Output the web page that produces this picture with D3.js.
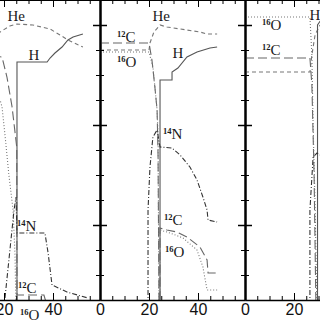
<!doctype html>
<meta charset="utf-8">
<style>
body { margin: 0; background: #fff; }
svg { display: block; }
.lbl { font-family: "Liberation Serif", "DejaVu Serif", serif; fill: #1a1a1a; }
</style>
<body>
<script src="https://d3js.org/d3.v7.min.js"></script>
<script>
// abundance profiles, [mass coordinate, log abundance]
var leftHe  = [[10,-0.3],[15,-0.18],[18.4,-0.07],[22.4,-0.01],[25.3,0.01],[31.8,0],[38.8,-0.04],[42.9,-0.1],[46.1,-0.15],[52.2,-0.22]];
var leftH   = [[25.3,-2.9],[25.3,-0.37],[37.6,-0.37],[38.8,-0.33],[40.8,-0.28],[43.7,-0.22],[46.1,-0.15],[48.2,-0.12],[52.2,-0.09]];
var leftC12 = [[10,-0.3],[19.2,-0.32],[21.2,-0.52],[23.3,-0.82],[25.2,-1.22],[25.3,-2.7],[36.3,-2.7],[37,-2.76]];
var leftO16 = [[10,-0.6],[18.4,-0.75],[19.2,-0.82],[20.4,-1.1],[22,-1.5],[23.7,-1.85],[24.5,-2.3],[25,-3]];
var leftN14 = [[20.4,-2.73],[24.1,-1.85],[24.9,-1.72],[25.3,-2.08],[36.7,-2.08],[38,-2.28],[39.6,-2.6],[45.7,-2.67],[54.3,-2.73]];

var midHe  = [[0,-0.25],[20,-0.25],[20.4,-0.18],[22,-0.07],[24.5,0],[27.3,-0.02],[40.8,-0.07],[43.7,-0.09],[47.8,-0.09]];
var midH   = [[24.5,-2.9],[24.5,-0.55],[29.4,-0.55],[29.4,-0.47],[31.8,-0.43],[35.5,-0.32],[39.6,-0.27],[44.9,-0.23],[47.8,-0.22]];
var midC12 = [[0,-0.18],[20,-0.18],[21.2,-0.35],[22.4,-0.62],[23.3,-0.85],[23.7,-1.3],[24.1,-2.9],[24.5,-2.9],[24.5,-2.03],[27.3,-2.05],[31.4,-2.07],[35.5,-2.12],[40.8,-2.22],[43.7,-2.35],[44.1,-2.48],[47.8,-2.48]];
var midO16 = [[0,-0.27],[20,-0.27],[21.6,-0.42],[22.4,-0.62],[23.3,-0.85],[23.7,-1.1],[24.1,-2.9],[24.5,-2.9],[24.5,-2.05],[28.6,-2.08],[33.9,-2.13],[39.6,-2.25],[42,-2.42],[43.7,-2.65],[47.8,-2.65]];
var midN14 = [[19.6,-2.9],[19.6,-1.85],[20.4,-1.42],[21.6,-1.12],[23.3,-1.05],[24.5,-1.22],[29.4,-1.23],[32.7,-1.3],[36.7,-1.42],[39.6,-1.55],[42,-1.72],[43.7,-1.85],[44.1,-1.95],[47.8,-1.97]];

var rightHe  = [[0,-0.47],[26.5,-0.47],[27.3,-0.3],[28.6,-0.1],[30.6,0]];
var rightH   = [[29.6,-2.9],[29.6,0.0],[31,0.05]];
var rightC12 = [[0,-0.33],[26.5,-0.33],[27.3,-0.6],[28.2,-1.5],[29,-2.9]];
var rightO16 = [[0,0.08],[26.5,0.08],[27.3,-0.3],[27.8,-1],[28.6,-1.8],[29.4,-2.9]];
var rightN14 = [[26.5,-2.9],[26.5,-1.85],[27.8,-1.32],[29.4,-1.28],[30.6,-1.3]];

var xMajor = [0, 20, 40];
var xMinor = [5, 10, 15, 25, 30, 35, 45, 50, 55];
var yMajor = [0, -1, -2];
var yMinor = [0.25, -0.25, -0.5, -0.75, -1.25, -1.5, -1.75, -2.25, -2.5];

// label text: [isotope mass, element, x, y]
var leftLabels  = [["", "He", 21.4, 0.04], ["", "H", 30.0, -0.35], ["14", "N", 25.3, -2.06], ["12", "C", 25.7, -2.68], ["16", "O", 26.5, -2.95]];
var midLabels   = [["", "He", 21.4, 0.04], ["12", "C", 6.9, -0.17], ["16", "O", 6.9, -0.42], ["", "H", 29.6, -0.33], ["14", "N", 25.7, -1.14], ["12", "C", 26.1, -2.0], ["16", "O", 26.5, -2.32]];
var rightLabels = [["16", "O", 6.9, -0.05], ["12", "C", 6.9, -0.3], ["", "H", 26.3, 0.05]];

var styles = {
  He:  {stroke: "#777", dash: "4,3", w: 1.1},
  H:   {stroke: "#555", dash: null, w: 1.1},
  C12: {stroke: "#666", dash: "9,4", w: 1.1},
  O16: {stroke: "#777", dash: "1,2", w: 1.1},
  N14: {stroke: "#333", dash: "5,2,1,2", w: 1.1}
};

var panels = [
  {left: -45, series: {He: leftHe, H: leftH, C12: leftC12, O16: leftO16, N14: leftN14}, labels: leftLabels},
  {left: 100, series: {He: midHe, H: midH, C12: midC12, O16: midO16, N14: midN14}, labels: midLabels},
  {left: 245, series: {He: rightHe, H: rightH, C12: rightC12, O16: rightO16, N14: rightN14}, labels: rightLabels}
];

var pw = 145, ph = 300;
var x = d3.scaleLinear().domain([0, pw / 2.45]).range([0, pw]);
var y = d3.scaleLinear().domain([0.25, -2.75]).range([0, ph]);

var svg = d3.select("body").append("svg")
  .attr("width", 320)
  .attr("height", 320);

var line = d3.line()
  .x(function(d) { return x(d[0]); })
  .y(function(d) { return y(d[1]); });

panels.forEach(function(p, i) {
  var g = svg.append("g").attr("transform", "translate(" + p.left + ",0)");

  g.append("clipPath").attr("id", "clip" + i)
    .append("rect").attr("width", pw).attr("height", ph);

  var plot = g.append("g").attr("clip-path", "url(#clip" + i + ")");
  Object.keys(p.series).forEach(function(k) {
    var s = styles[k];
    plot.append("path")
      .datum(p.series[k])
      .attr("d", line)
      .attr("fill", "none")
      .attr("stroke", s.stroke)
      .attr("stroke-width", s.w)
      .attr("stroke-dasharray", s.dash);
  });

  // labels
  p.labels.forEach(function(l) {
    var t = g.append("text").attr("class", "lbl")
      .attr("x", x(l[2])).attr("y", y(l[3]));
    if (l[0]) {
      t.append("tspan").attr("font-size", 8.5).attr("font-weight", "bold").attr("dy", -5).text(l[0]);
      t.append("tspan").attr("font-size", 15).attr("dy", 5).text(l[1]);
    } else {
      t.append("tspan").attr("font-size", 15).text(l[1]);
    }
  });

  // bottom axis, labelled majors
  var bot = g.append("g").attr("transform", "translate(0," + ph + ")")
    .call(d3.axisBottom(x).tickValues(xMajor).tickSizeInner(-7).tickSizeOuter(0).tickPadding(4).tickFormat(d3.format("d")));
  bot.select(".domain").attr("stroke-width", 1.5);
  bot.selectAll("text").attr("font-family", "'Liberation Sans', Arial, sans-serif").attr("font-size", 16).attr("fill", "#111");
  g.append("g").attr("transform", "translate(0," + ph + ")")
    .call(d3.axisBottom(x).tickValues(xMinor).tickSizeInner(-4).tickSizeOuter(0).tickFormat(""))
    .select(".domain").remove();

  // top axis
  g.append("g")
    .call(d3.axisTop(x).tickValues(xMajor).tickSizeInner(-7).tickSizeOuter(0).tickFormat(""));
  g.append("g")
    .call(d3.axisTop(x).tickValues(xMinor).tickSizeInner(-4).tickSizeOuter(0).tickFormat(""))
    .select(".domain").remove();

  // left & right borders with inward ticks
  [[d3.axisLeft, 0], [d3.axisRight, pw]].forEach(function(a) {
    var ax = g.append("g").attr("transform", "translate(" + a[1] + ",0)")
      .call(a[0](y).tickValues(yMajor).tickSizeInner(-7).tickSizeOuter(0).tickFormat(""));
    ax.select(".domain").attr("stroke-width", 2);
    ax.selectAll(".tick line").attr("stroke-width", 1.5);
    g.append("g").attr("transform", "translate(" + a[1] + ",0)")
      .call(a[0](y).tickValues(yMinor).tickSizeInner(-4).tickSizeOuter(0).tickFormat(""))
      .select(".domain").remove();
  });
});
</script>
</body>
